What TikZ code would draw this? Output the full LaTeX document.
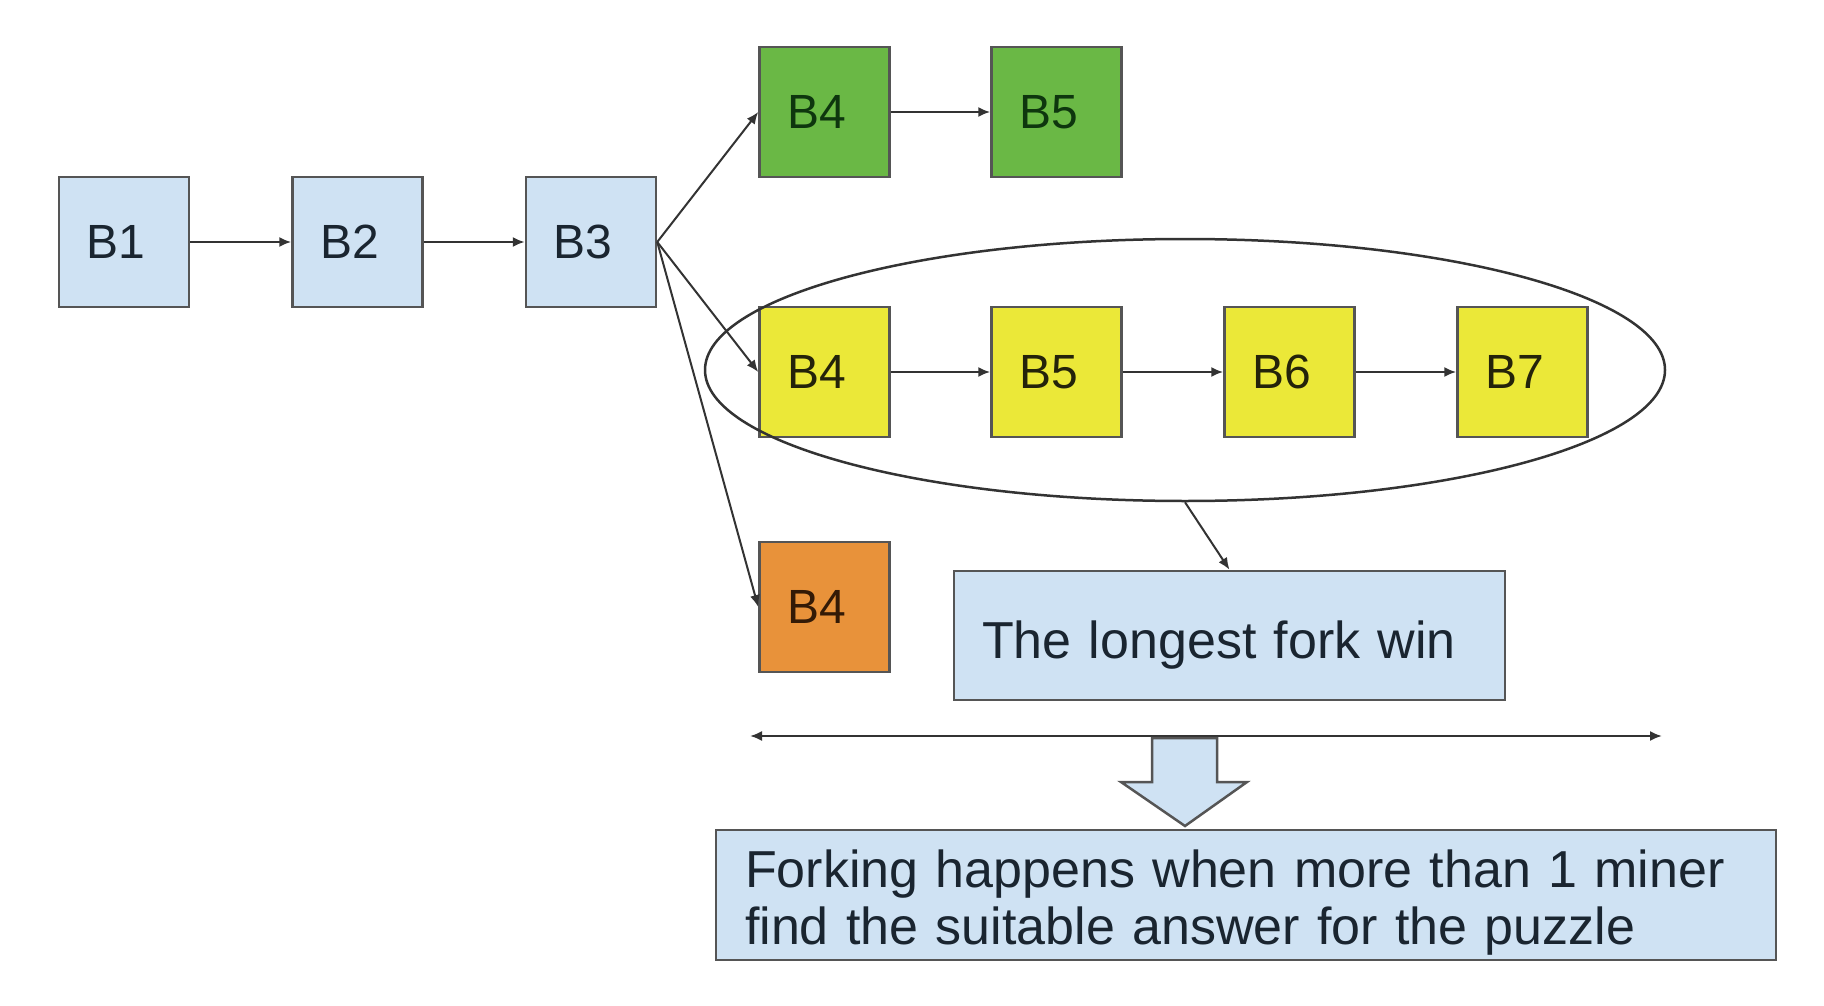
\documentclass[tikz,border=0pt]{standalone}
\usepackage{fontspec}
\setmainfont{Liberation Sans}
\usetikzlibrary{arrows.meta,shapes.geometric}
\definecolor{bluefill}{HTML}{CFE2F3}
\definecolor{greenfill}{HTML}{6AB845}
\definecolor{yellowfill}{HTML}{EBE838}
\definecolor{orangefill}{HTML}{E8923A}
\definecolor{edge}{HTML}{555555}
\definecolor{linecol}{HTML}{333333}
\definecolor{bluetext}{HTML}{1A2530}
\definecolor{greentext}{HTML}{0E360E}
\definecolor{yellowtext}{HTML}{24230A}
\definecolor{orangetext}{HTML}{331A06}
\tikzset{
  blk/.style={draw=edge, line width=2.5pt, minimum width=130pt, minimum height=130pt,
    inner sep=0pt, font=\fontsize{48}{56}\selectfont,
    execute at begin node=\hspace*{-16pt}},
  blueblk/.style={blk, fill=bluefill, text=bluetext},
  greenblk/.style={blk, fill=greenfill, text=greentext},
  yellowblk/.style={blk, fill=yellowfill, text=yellowtext},
  orangeblk/.style={blk, fill=orangefill, text=orangetext},
  conn/.style={draw=linecol, line width=2pt, -{Latex[length=12pt,width=10pt]}},
  textbox/.style={draw=edge, line width=2.5pt, fill=bluefill, text=bluetext,
    font=\fontsize{52}{57}\selectfont, align=left, inner ysep=0pt}
}
\begin{document}
\begin{tikzpicture}[x=1pt,y=-1pt]
\useasboundingbox (0,0) rectangle (1824,1006);
% main chain
\node[blueblk] (b1) at (124,242) {B1};
\node[blueblk] (b2) at (357.5,242) {B2};
\node[blueblk] (b3) at (591,242) {B3};
% green fork
\node[greenblk] (g4) at (824.5,112) {B4};
\node[greenblk] (g5) at (1056.5,112) {B5};
% yellow fork
\node[yellowblk] (y4) at (824.5,372) {B4};
\node[yellowblk] (y5) at (1056.5,372) {B5};
\node[yellowblk] (y6) at (1289.5,372) {B6};
\node[yellowblk] (y7) at (1522.5,372) {B7};
% orange fork
\node[orangeblk] (o4) at (824.5,607) {B4};
% connectors
\draw[conn] (b1.east) -- (b2.west);
\draw[conn] (b2.east) -- (b3.west);
\draw[conn] (b3.east) -- (g4.west);
\draw[conn] (b3.east) -- (y4.west);
\draw[conn] (b3.east) -- (o4.west);
\draw[conn] (g4.east) -- (g5.west);
\draw[conn] (y4.east) -- (y5.west);
\draw[conn] (y5.east) -- (y6.west);
\draw[conn] (y6.east) -- (y7.west);
% ellipse around longest fork
\node[ellipse, draw=linecol, line width=2.5pt, minimum width=960pt, minimum height=262pt, inner sep=0pt] (ell) at (1185,370) {};
% longest fork box
\node[textbox, text width=495pt, inner xsep=28pt, minimum height=129pt] (fork) at (1229.5,635.5) {\rule{0pt}{56pt}The longest fork win};
\draw[conn] (ell.south) -- (fork.north);
% double-headed line
\coordinate (hl) at (750,736);
\coordinate (hr) at (1662,736);
\draw[draw=linecol, line width=2pt, {Latex[length=12pt,width=10pt]}-{Latex[length=12pt,width=10pt]}] (hl) -- (hr);
% bottom box
\node[textbox, text width=1002pt, inner xsep=29pt, minimum height=130pt] (note) at (1246,895) {\rule{0pt}{52pt}Forking happens when more than 1 miner\\find the suitable answer for the puzzle};
% block arrow
\draw[draw=edge, line width=2.5pt, fill=bluefill, line join=miter]
  (1152,738) -- (1217,738) -- (1217,782) -- (1247,782) -- (1185,826) -- (1121,782) -- (1152,782) -- cycle;
\end{tikzpicture}
\end{document}
